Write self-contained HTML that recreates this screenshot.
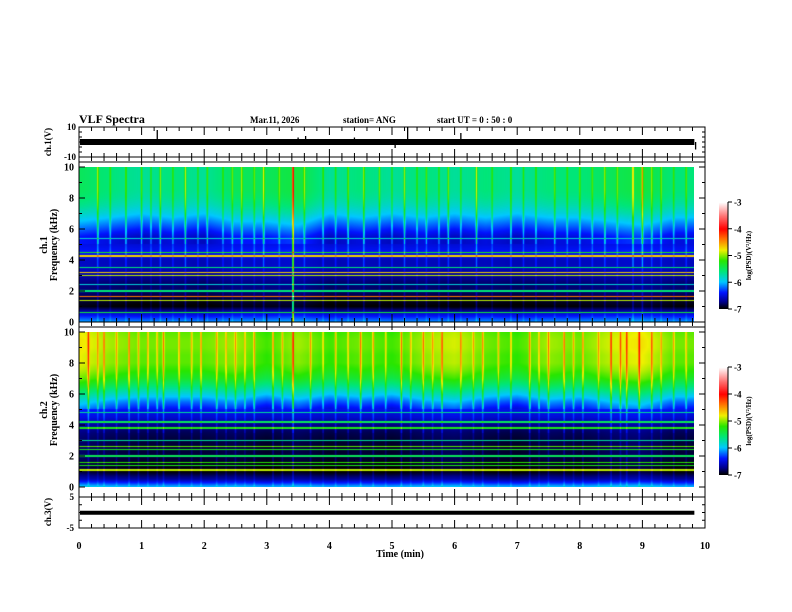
<!DOCTYPE html>
<html><head><meta charset="utf-8">
<style>
body{margin:0;background:#fff;}
#wrap{position:relative;width:792px;height:612px;overflow:hidden;background:#fff;font-family:"Liberation Serif",serif;font-weight:bold;}
canvas{position:absolute;}
svg{position:absolute;left:0;top:0;}
text{font-family:"Liberation Serif",serif;font-weight:bold;font-size:10px;fill:#000;}
</style></head>
<body>
<div id="wrap">
<canvas id="spec1" width="615" height="155" style="left:79px;top:167px"></canvas>
<canvas id="spec2" width="615" height="155" style="left:79px;top:332px"></canvas>
<canvas id="cb1" width="9" height="107" style="left:719px;top:202px"></canvas>
<canvas id="cb2" width="9" height="108" style="left:719px;top:367px"></canvas>
<svg id="svg" width="792" height="612">
<text x="79" y="123" style="font-size:12px">VLF Spectra</text>
<text x="250" y="123" style="font-size:9px">Mar.11, 2026</text>
<text x="343" y="123" style="font-size:9px">station= ANG</text>
<text x="437" y="123" style="font-size:9px">start  UT =   0 : 50 : 0</text>
</svg>
</div>
<script>
// ---- data ----
const freqGrid = [0,0.5,1,1.5,2,2.5,3,3.5,4,4.5,5,5.5,6,6.5,7,7.5,8,8.5,9,9.5,10];
const profile1 = [-6.1,-6.5,-7.0,-6.9,-6.8,-6.8,-6.7,-6.6,-6.6,-6.4,-6.5,-6.5,-6.3,-6.1,-5.9,-5.75,-5.65,-5.6,-5.6,-5.6,-5.6];
const profile2 = [-6.0,-6.7,-7.0,-6.95,-6.9,-6.9,-6.9,-6.85,-6.75,-6.55,-6.45,-6.2,-5.9,-5.6,-5.35,-5.2,-5.1,-5.1,-5.05,-5.05,-5.1];
const lineFreq1 = [0.6,1.4,1.65,2.0,2.4,3.0,3.2,3.5,4.25,4.5,5.4];
const lineVal1 = [-5.4,-4.9,-4.4,-5.6,-5.9,-4.9,-4.7,-5.6,-4.7,-5.3,-5.9];
const lineFreq2 = [1.1,1.4,1.6,2.0,2.4,2.6,3.0,3.8,4.2,4.8];
const lineVal2 = [-4.9,-5.3,-5.2,-5.5,-5.3,-5.1,-5.7,-5.3,-5.5,-5.7];
const segT = [0,0.5,1,1.5,2,2.5,3,3.5,4,4.5,5,5.5,6,6.5,7,7.5,8,8.5,9,9.5,10];
const segOff1 = [0.1,0.0,-0.1,0.0,-0.1,0.1,0.1,0.2,-0.1,0.0,-0.1,0.0,-0.1,0.0,-0.1,0.0,0.0,0.1,0.2,0.0,0.0];
const segOff2 = [0.3,0.1,0.0,0.0,0.0,0.1,-0.1,0.1,-0.1,0.0,-0.1,0.1,0.2,0.0,-0.1,0.1,0.0,0.2,0.3,0.0,0.0];
const streakT1 = [0.3,0.5,0.75,1.0,1.15,1.3,1.5,1.7,1.9,2.05,2.3,2.45,2.6,2.8,2.95,3.2,3.42,3.6,3.9,4.1,4.3,4.55,4.8,5.0,5.2,5.4,5.55,5.75,5.9,6.1,6.35,6.6,6.9,7.1,7.3,7.6,7.8,8.0,8.2,8.4,8.6,8.85,9.0,9.15,9.3,9.5,9.7];
const streakA1 = [0.8,0.5,0.7,0.6,0.5,0.7,0.5,0.8,0.5,0.6,0.5,0.5,0.7,0.5,0.8,0.5,2.0,0.6,0.6,0.5,0.7,0.8,0.6,0.5,0.7,0.5,0.5,0.5,0.7,0.5,0.8,0.5,0.7,0.5,0.6,0.6,0.5,0.6,0.5,0.7,0.5,1.0,1.0,0.6,0.6,0.5,0.6];
const streakT2 = [0.15,0.3,0.4,0.6,0.8,0.95,1.1,1.25,1.35,1.6,1.8,1.95,2.2,2.35,2.5,2.65,2.8,3.1,3.25,3.42,3.7,3.9,4.1,4.3,4.5,4.7,4.9,5.15,5.3,5.5,5.65,5.8,6.1,6.3,6.45,6.7,6.9,7.2,7.35,7.5,7.75,7.9,8.05,8.3,8.5,8.65,8.75,8.95,9.15,9.3,9.5,9.7];
const streakA2 = [0.8,0.5,0.7,0.5,0.8,0.5,0.6,0.5,0.7,0.6,0.5,0.7,0.6,0.5,0.5,0.5,0.7,0.8,0.5,1.2,0.6,0.5,0.6,0.5,0.8,0.7,0.5,0.8,0.5,0.7,0.5,0.8,0.6,0.5,0.7,0.5,0.6,0.8,0.5,0.6,0.8,0.5,0.7,0.5,0.9,0.6,0.8,0.9,0.7,0.5,0.6,0.5];
const spikeT = [1.25,3.5,3.62,4.4,5.05,5.25,6.1,9.85];
const spikeV = [8,3,4,3,-4,10,6,-5];
const ch3Value = -0.1;
const tMax = 9.83;
const xTicks = [0,1,2,3,4,5,6,7,8,9,10];
const fTicks = [0,2,4,6,8,10];
const cbTicks = [-3,-4,-5,-6,-7];

// ---- scales ----
const X0=79, X1=705;
const xs = t => X0 + (X1-X0)*t/10;
const cmapStops=[[-7,[0,0,0]],[-6.75,[0,0,140]],[-6.4,[0,20,255]],[-6.0,[0,200,255]],[-5.6,[0,230,120]],[-5.2,[40,230,0]],[-4.8,[240,240,0]],[-4.4,[255,120,0]],[-4.0,[255,0,0]],[-3.5,[255,120,120]],[-3,[255,255,255]]];
function cmap(v){
  if(v<=-7) return cmapStops[0][1];
  if(v>=-3) return [255,255,255];
  for(let i=0;i<cmapStops.length-1;i++){const a=cmapStops[i],b=cmapStops[i+1];
    if(v>=a[0]&&v<=b[0]){const u=(v-a[0])/(b[0]-a[0]);return a[1].map((c,k)=>Math.round(c+(b[1][k]-c)*u));}}
  return [255,255,255];
}
function interp(grid,vals,f){for(let i=0;i<grid.length-1;i++){if(f<=grid[i+1]){const u=(f-grid[i])/(grid[i+1]-grid[i]);return vals[i]+(vals[i+1]-vals[i])*u;}}return vals[vals.length-1];}

function drawSpec(id,profile,lf,lv,st,sa,seg){
  const c=document.getElementById(id),ctx=c.getContext('2d');
  const W=c.width,H=c.height,img=ctx.createImageData(W,H);
  const pxT=10/(X1-X0);
  for(let x=0;x<W;x++){
    const t=(x+0.5)*pxT;
    if(t>tMax) continue;
    const off=interp(segT,seg,t);
    for(let y=0;y<H;y++){
      const f=10*(1-(y+0.5)/H);
      let v=interp(freqGrid,profile,f)+off*(f>5?1:0.3);
      for(let i=0;i<lf.length;i++){ if(Math.abs(f-lf[i])<0.045) v=Math.max(v,lv[i]); }
      for(let i=0;i<st.length;i++){
        const d=Math.abs(t-st[i]);
        if(d<0.022){
          const k=sa[i]>=1.5?1:(f>5?1:(f>3.5?0.5:0.25));
          v+=sa[i]*k*(1-d/0.022);
        }
      }
      const col=cmap(v),p=(y*W+x)*4;
      img.data[p]=col[0];img.data[p+1]=col[1];img.data[p+2]=col[2];img.data[p+3]=255;
    }
  }
  ctx.putImageData(img,0,0);
}
drawSpec('spec1',profile1,lineFreq1,lineVal1,streakT1,streakA1,segOff1);
drawSpec('spec2',profile2,lineFreq2,lineVal2,streakT2,streakA2,segOff2);
function drawCb(id){const c=document.getElementById(id),ctx=c.getContext('2d');
  for(let y=0;y<c.height;y++){const v=-3-4*y/(c.height-1);const col=cmap(v);ctx.fillStyle=`rgb(${col})`;ctx.fillRect(0,y,c.width,1);}}
drawCb('cb1');drawCb('cb2');

// ---- SVG axes ----
const svg=document.getElementById('svg');const NS='http://www.w3.org/2000/svg';
function el(tag,attrs,parent){const e=document.createElementNS(NS,tag);for(const k in attrs)e.setAttribute(k,attrs[k]);(parent||svg).appendChild(e);return e;}
function line(x1,y1,x2,y2,w){return el('line',{x1,y1,x2,y2,stroke:'#000','stroke-width':w||1});}
function txt(x,y,s,anchor,size){const e=el('text',{x,y,'text-anchor':anchor||'middle'});if(size)e.style.fontSize=size+'px';e.textContent=s;return e;}

function box(top,bot,name){
  const r=el('rect',{x:X0,y:top,width:X1-X0,height:bot-top,fill:'none',stroke:'#000','stroke-width':1});
  
  
}
box(127,157,'ch1-frame');box(157,322,'ch1-spec-frame');box(322,497,'ch2-spec-frame');box(497,528,'ch3-frame');
line(X0,162,X1,162);line(X0,327,X1,327);
const edges=[[127,1],[157,-1],[157,1],[322,-1],[322,1],[497,-1],[497,1],[528,-1]];
for(const [y,dir] of edges){
  for(let m=0;m<=50;m++){const t=m*0.2;const x=xs(t);const major=m%5===0;line(x,y,x,y+dir*(major?8:4));}
}
xTicks.forEach(t=>{const e=txt(xs(t),549,String(t));});
const xt=txt(400,557,'Time  (min)');

// ch1 waveform
const ch1Y=v=>142-15*v/10;
const band=el('rect',{x:xs(0)+1,y:ch1Y(2),width:xs(tMax)-xs(0)-1,height:ch1Y(-2)-ch1Y(2),fill:'#000'});

spikeT.forEach((t,i)=>{const s=line(xs(t),142,xs(t),ch1Y(spikeV[i]),1.3);});
txt(76,130,'10','end',9);txt(76,160,'-10','end',9);
[127,132,137,142,147,152,157].forEach(y=>{line(X0,y,X0+3,y);line(X1,y,X1-3,y);});

function specAxis(top,bot,nameBase){
  const fy=f=>bot-(bot-top)*f/10;
  for(let f=0;f<=10;f++){const y=fy(f);const L=f%2===0?6:3;line(X0,y,X0+L,y);line(X1,y,X1-L,y);}
  fTicks.forEach(f=>{const e=txt(74,fy(f)+3.5,String(f),'end',10);});
}
specAxis(167,322,'ch1');specAxis(332,487,'ch2');

const ch3Y=v=>512.5-31*v/10;
const l3=line(xs(0)+1,ch3Y(ch3Value),xs(tMax),ch3Y(ch3Value),4);

[-5,-2.5,0,2.5,5].forEach(v=>{line(X0,ch3Y(v),X0+3,ch3Y(v));line(X1,ch3Y(v),X1-3,ch3Y(v));});
txt(74,500,'5','end',9);txt(74,531,'-5','end',9);

function rot(x,y,s,name,size){const e=el('text',{x:0,y:0,'text-anchor':'middle',transform:`translate(${x},${y}) rotate(-90)`});e.style.fontSize=(size||10)+'px';e.textContent=s;return e;}
rot(51,142,'ch.1(V)','ch1-y-title',9);
rot(47,245,'ch.1','ch1-spec-title');rot(57,245,'Frequency  (kHz)','ch1-freq-title');
rot(47,410,'ch.2','ch2-spec-title');rot(57,410,'Frequency  (kHz)','ch2-freq-title');
rot(51,512,'ch.3(V)','ch3-y-title',9);

function cbAxis(top,bot,name){
  line(728,top,728,bot);
  cbTicks.forEach(v=>{const y=top+(bot-top)*(-3-v)/4;line(728,y,732,y);const e=txt(734,y+3.5,String(v),'start',9);});
  rot(751,(top+bot)/2,'log(PSD)(V²/Hz)',name+'-title',7);
}
cbAxis(202,309,'colorbar-ch1');cbAxis(367,475,'colorbar-ch2');
</script>
</body></html>
